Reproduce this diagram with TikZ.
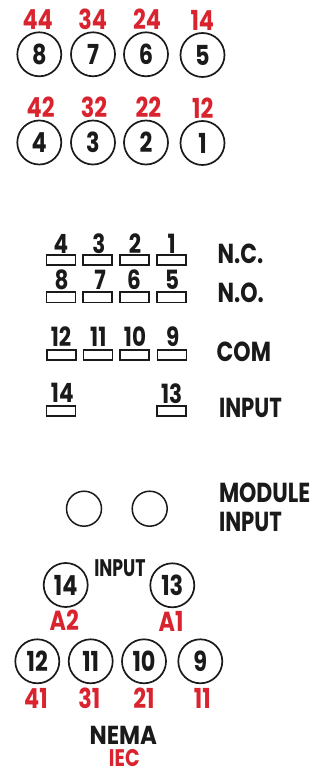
\documentclass[tikz,border=0pt]{standalone}
\usepackage{fontspec}
\setmainfont{Poppins}
\definecolor{ink}{HTML}{1A1A1A}
\definecolor{redlab}{HTML}{D9232E}
\newcommand{\nar}[1]{\scalebox{.86}[1.06]{\bfseries #1}}
\newcommand{\wrd}[1]{\scalebox{.8}[1]{\bfseries #1}}
\tikzset{
  x=1pt,y=-1pt,
  base/.style={inner sep=0pt,outer sep=0pt},
  pin/.style={base,circle,draw=ink,line width=1.7pt,minimum size=44pt,text=ink,font=\fontsize{26}{26}\selectfont},
  hole/.style={base,circle,draw=ink,line width=1.5pt,minimum size=35pt},
  redlbl/.style={base,text=redlab,font=\fontsize{26}{26}\selectfont},
  slot/.style={base,rectangle,draw=ink,line width=1.8pt,minimum width=29pt,minimum height=10.5pt},
  num/.style={base,text=ink,font=\fontsize{25}{25}\selectfont},
  word/.style={base,text=ink,anchor=west,font=\fontsize{27.5}{27.5}\selectfont},
  midword/.style={base,text=ink,font=\fontsize{24}{24}\selectfont},
}
\begin{document}
\begin{tikzpicture}
\useasboundingbox[clip] (0,0) rectangle (329,767);
% top pins
\node[pin] (p8) at (39.3,54.3) {\nar{8}};
\node[pin] (p7) at (93,54.3) {\nar{7}};
\node[pin] (p6) at (146,54.3) {\nar{6}};
\node[pin] (p5) at (202.5,55) {\nar{5}};
\node[pin] (p4) at (39.3,142.5) {\nar{4}};
\node[pin] (p3) at (93,142.5) {\nar{3}};
\node[pin] (p2) at (146,142.5) {\nar{2}};
\node[pin] (p1) at (202.5,143) {\nar{1}};
\node[redlbl] (r44) at (37.7,19.5) {\nar{44}};
\node[redlbl] (r34) at (92.7,19) {\nar{34}};
\node[redlbl] (r24) at (147,19) {\nar{24}};
\node[redlbl] (r14) at (202.3,20) {\nar{14}};
\node[redlbl] (r42) at (40.7,107.3) {\nar{42}};
\node[redlbl] (r32) at (94,107) {\nar{32}};
\node[redlbl] (r22) at (148.3,107) {\nar{22}};
\node[redlbl] (r12) at (202.7,108) {\nar{12}};
% slots
\foreach \n/\x/\y in {a1/61/260,a2/97.7/260,a3/134.3/260,a4/171.7/260,b1/61/297.3,b2/97.7/297.3,b3/134.3/297.3,b4/171.7/297.3,c1/61.3/355,c2/98/355,c3/134.7/355,c4/172/355,d1/61/411,d4/171.7/411}
  \node[slot] (\n) at (\x,\y) {};
\node[num] (n4) at (61,244) {\nar{4}};
\node[num] (n3) at (99,244) {\nar{3}};
\node[num] (n2) at (135,244) {\nar{2}};
\node[num] (n1) at (171.7,244) {\nar{1}};
\node[num] (n8) at (61.7,280) {\nar{8}};
\node[num] (n7) at (100,280) {\nar{7}};
\node[num] (n6) at (134,280) {\nar{6}};
\node[num] (n5) at (172,280) {\nar{5}};
\node[num] (n12) at (61,336.7) {\nar{12}};
\node[num] (n11) at (98.3,336.7) {\nar{11}};
\node[num] (n10) at (135,336.7) {\nar{10}};
\node[num] (n9) at (172.7,336.7) {\nar{9}};
\node[num] (n14) at (62.3,393.3) {\nar{14}};
\node[num] (n13) at (171.7,393.3) {\nar{13}};
% row labels
\node[word] (nc) at (217.7,254.3) {\wrd{N.C.}};
\node[word] (no) at (217.7,292.7) {\wrd{N.O.}};
\node[word] (com) at (216.7,352.3) {\wrd{COM}};
\node[word] (inp) at (219,408.3) {\scalebox{.77}[1]{\bfseries INPUT}};
\node[word] (mod) at (219,493.3) {\wrd{MODULE}};
\node[word] (modi) at (219,521.7) {\scalebox{.77}[1]{\bfseries INPUT}};
% module holes
\node[hole] (h1) at (84,508.7) {};
\node[hole] (h2) at (149.7,508.7) {};
% bottom
\node[midword] (mi) at (120,568.3) {\scalebox{.72}[1]{\bfseries INPUT}};
\node[pin] (p14) at (65.7,585) {\nar{14}};
\node[pin] (p13) at (172.3,585.3) {\nar{13}};
\node[redlbl] (a2) at (64.3,620.7) {\nar{A2}};
\node[redlbl] (a1) at (171,621.3) {\nar{A1}};
\node[pin] (p12) at (37.3,661.3) {\nar{12}};
\node[pin] (p11) at (90.7,661.3) {\nar{11}};
\node[pin] (p10) at (144,661.3) {\nar{10}};
\node[pin] (p9) at (200.3,661.3) {\nar{9}};
\node[redlbl] (r41) at (36,698.3) {\nar{41}};
\node[redlbl] (r31) at (89.3,698.3) {\nar{31}};
\node[redlbl] (r21) at (144,698.3) {\nar{21}};
\node[redlbl] (r11) at (202.3,698.3) {\nar{11}};
\node[midword,font=\fontsize{26}{26}\selectfont] (nema) at (123.3,735.5) {\scalebox{.88}[1]{\bfseries NEMA}};
\node[redlbl,font=\fontsize{24}{24}\selectfont] (iec) at (124.3,758) {\wrd{IEC}};
\end{tikzpicture}
\end{document}
